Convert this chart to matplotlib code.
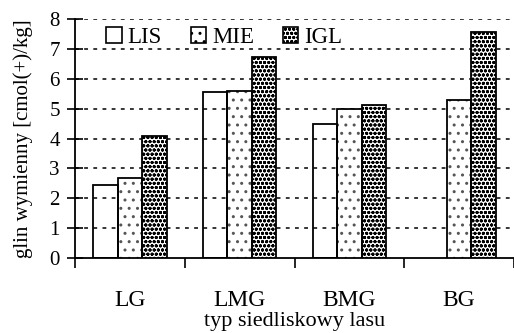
import numpy as np
import matplotlib
matplotlib.use("Agg")
import matplotlib.pyplot as plt
from matplotlib.patches import Patch

plt.rcParams['font.family'] = ['Liberation Serif', 'DejaVu Serif']
plt.rcParams['hatch.linewidth'] = 1.0

categories = ["LG", "LMG", "BMG", "BG"]
series = ["LIS", "MIE", "IGL"]
lis = [2.45, 5.55, 4.48, np.nan]
mie = [2.67, 5.58, 4.98, 5.3]
igl = [4.1, 6.73, 5.12, 7.58]
yticks = [0, 1, 2, 3, 4, 5, 6, 7, 8]

values = [lis, mie, igl]
hatches = [None, '..', 'oooo']
hatch_colors = ['black', '#555555', 'black']

fig = plt.figure(figsize=(5.14, 3.33), dpi=100)
ax = fig.add_axes([0.146, 0.225, 0.854, 0.718])

x = np.arange(len(categories))
w = 0.223
for i, (vals, h, hc) in enumerate(zip(values, hatches, hatch_colors)):
    pos = x + (i - 1) * w
    v = np.array(vals, dtype=float)
    mask = ~np.isnan(v)
    if h:
        ax.bar(pos[mask], v[mask], w, color='white', edgecolor=hc, hatch=h,
               linewidth=0, zorder=3)
    ax.bar(pos[mask], v[mask], w, facecolor='none', edgecolor='black',
           linewidth=1.3, zorder=4)

ax.set_ylim(0, 8)
ax.set_xlim(-0.5, len(categories) - 0.5)
ax.set_yticks(yticks)
ax.set_yticklabels([str(t) for t in yticks])
for t in yticks[1:]:
    ax.axhline(t, color='black', linestyle=(0, (2.5, 3.5)), linewidth=1.1, zorder=1)

ax.set_xticks(np.arange(-0.5, len(categories), 1.0))
ax.set_xticklabels([])
ax.set_xticks(x, minor=True)
ax.set_xticklabels(categories, minor=True, fontsize=17)
ax.tick_params(axis='x', which='major', direction='out', length=7, width=1.2)
ax.tick_params(axis='x', which='minor', length=0, pad=23)
ax.tick_params(axis='y', direction='inout', length=12, width=1.2, labelsize=15, pad=5)

for s in ['top', 'right']:
    ax.spines[s].set_visible(False)
for s in ['left', 'bottom']:
    ax.spines[s].set_linewidth(1.3)

ax.set_ylabel("glin wymienny [cmol(+)/kg]", fontsize=15, labelpad=12)
ax.set_xlabel("typ siedliskowy lasu", fontsize=16, labelpad=1)

handles = [Patch(facecolor='white', edgecolor=hc if h else 'black', hatch=h, linewidth=1.2)
           for h, hc in zip(hatches, hatch_colors)]
leg = ax.legend(handles, series, ncol=3, loc='upper left', bbox_to_anchor=(0.04, 1.025),
                frameon=False, fontsize=16.5, handlelength=0.68, handleheight=0.68,
                handletextpad=0.25, columnspacing=1.25, borderaxespad=0.2)
for p in leg.get_patches():
    p.set_edgecolor('black')

fig.savefig("out.png", dpi=100)
